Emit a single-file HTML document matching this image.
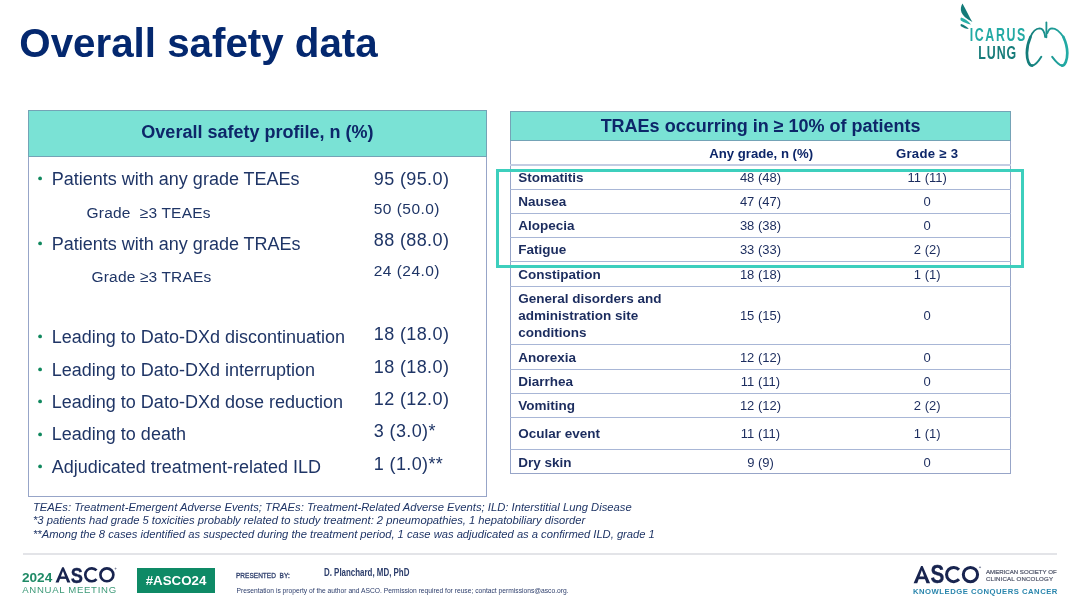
<!DOCTYPE html>
<html><head><meta charset="utf-8"><style>
html,body{margin:0;padding:0;width:1080px;height:607px;overflow:hidden;background:#fff;}
#wrap{position:absolute;left:0;top:0;width:1080px;height:607px;will-change:transform;}
.t{position:absolute;white-space:pre;line-height:1;font-family:"Liberation Sans",sans-serif;}
.r{position:absolute;}
</style></head><body><div id="wrap">
<div class="t" style="left:19.30px;top:24.00px;font-size:40.3px;font-weight:700;font-style:normal;color:#04286f;">Overall safety data</div>
<div class="r" style="left:28px;top:110px;width:459px;height:387px;background:#fff;border:1px solid #97a5c8;box-sizing:border-box;"></div>
<div class="r" style="left:28px;top:110px;width:459px;height:47px;background:#7ae2d5;border:1px solid #74a3b6;box-sizing:border-box;"></div>
<div class="t" style="left:-242.60px;width:1000px;text-align:center;top:123.00px;font-size:18px;font-weight:700;font-style:normal;color:#0d2669;">Overall safety profile, n (%)</div>
<div class="t" style="left:51.80px;top:170.00px;font-size:18px;font-weight:400;font-style:normal;color:#1f3566;">Patients with any grade TEAEs</div>
<svg class="r" style="left:36px;top:175.10px" width="8" height="8"><circle cx="4.1" cy="3.4" r="1.9" fill="#10885e"/></svg>
<div class="t" style="left:51.80px;top:235.00px;font-size:18px;font-weight:400;font-style:normal;color:#1f3566;">Patients with any grade TRAEs</div>
<svg class="r" style="left:36px;top:239.50px" width="8" height="8"><circle cx="4.1" cy="3.4" r="1.9" fill="#10885e"/></svg>
<div class="t" style="left:51.80px;top:328.00px;font-size:18px;font-weight:400;font-style:normal;color:#1f3566;">Leading to Dato-DXd discontinuation</div>
<svg class="r" style="left:36px;top:333.20px" width="8" height="8"><circle cx="4.1" cy="3.4" r="1.9" fill="#10885e"/></svg>
<div class="t" style="left:51.80px;top:361.00px;font-size:18px;font-weight:400;font-style:normal;color:#1f3566;">Leading to Dato-DXd interruption</div>
<svg class="r" style="left:36px;top:365.70px" width="8" height="8"><circle cx="4.1" cy="3.4" r="1.9" fill="#10885e"/></svg>
<div class="t" style="left:51.80px;top:393.00px;font-size:18px;font-weight:400;font-style:normal;color:#1f3566;">Leading to Dato-DXd dose reduction</div>
<svg class="r" style="left:36px;top:398.00px" width="8" height="8"><circle cx="4.1" cy="3.4" r="1.9" fill="#10885e"/></svg>
<div class="t" style="left:51.80px;top:425.00px;font-size:18px;font-weight:400;font-style:normal;color:#1f3566;">Leading to death</div>
<svg class="r" style="left:36px;top:430.50px" width="8" height="8"><circle cx="4.1" cy="3.4" r="1.9" fill="#10885e"/></svg>
<div class="t" style="left:51.80px;top:458.00px;font-size:18px;font-weight:400;font-style:normal;color:#1f3566;">Adjudicated treatment-related ILD</div>
<svg class="r" style="left:36px;top:462.80px" width="8" height="8"><circle cx="4.1" cy="3.4" r="1.9" fill="#10885e"/></svg>
<div class="t" style="left:86.60px;top:205.00px;font-size:15.5px;font-weight:400;font-style:normal;color:#1f3566;letter-spacing:0.2px;">Grade&nbsp; ≥3 TEAEs</div>
<div class="t" style="left:91.60px;top:269.00px;font-size:15.5px;font-weight:400;font-style:normal;color:#1f3566;letter-spacing:0.15px;">Grade ≥3 TRAEs</div>
<div class="t" style="left:373.80px;top:170.00px;font-size:18px;font-weight:400;font-style:normal;color:#1f3566;letter-spacing:0.38px;">95 (95.0)</div>
<div class="t" style="left:373.80px;top:201.00px;font-size:15.5px;font-weight:400;font-style:normal;color:#1f3566;letter-spacing:0.45px;">50 (50.0)</div>
<div class="t" style="left:373.80px;top:231.00px;font-size:18px;font-weight:400;font-style:normal;color:#1f3566;letter-spacing:0.38px;">88 (88.0)</div>
<div class="t" style="left:373.80px;top:263.00px;font-size:15.5px;font-weight:400;font-style:normal;color:#1f3566;letter-spacing:0.45px;">24 (24.0)</div>
<div class="t" style="left:373.80px;top:325.00px;font-size:18px;font-weight:400;font-style:normal;color:#1f3566;letter-spacing:0.38px;">18 (18.0)</div>
<div class="t" style="left:373.80px;top:358.00px;font-size:18px;font-weight:400;font-style:normal;color:#1f3566;letter-spacing:0.38px;">18 (18.0)</div>
<div class="t" style="left:373.80px;top:390.00px;font-size:18px;font-weight:400;font-style:normal;color:#1f3566;letter-spacing:0.38px;">12 (12.0)</div>
<div class="t" style="left:373.80px;top:422.00px;font-size:18px;font-weight:400;font-style:normal;color:#1f3566;letter-spacing:0.38px;">3 (3.0)*</div>
<div class="t" style="left:373.80px;top:455.00px;font-size:18px;font-weight:400;font-style:normal;color:#1f3566;letter-spacing:0.38px;">1 (1.0)**</div>
<div class="r" style="left:510px;top:111px;width:501px;height:363px;background:#fff;border:1px solid #97a5c8;box-sizing:border-box;"></div>
<div class="r" style="left:510px;top:111px;width:501px;height:30px;background:#7ae2d5;border:1px solid #74a3b6;box-sizing:border-box;"></div>
<div class="t" style="left:260.60px;width:1000px;text-align:center;top:117.00px;font-size:18px;font-weight:700;font-style:normal;color:#0d2669;">TRAEs occurring in ≥ 10% of patients</div>
<div class="t" style="left:261.20px;width:1000px;text-align:center;top:147.00px;font-size:13.15px;font-weight:700;font-style:normal;color:#0d2669;">Any grade, n (%)</div>
<div class="t" style="left:427.20px;width:1000px;text-align:center;top:147.00px;font-size:13.15px;font-weight:700;font-style:normal;color:#0d2669;letter-spacing:0.3px;">Grade ≥ 3</div>
<div class="r" style="left:510px;top:164px;width:501px;height:2px;background:#c3cde3;"></div>
<div class="r" style="left:510px;top:189px;width:501px;height:1px;background:#a8b6d6;"></div>
<div class="r" style="left:510px;top:213px;width:501px;height:1px;background:#a8b6d6;"></div>
<div class="r" style="left:510px;top:237px;width:501px;height:1px;background:#a8b6d6;"></div>
<div class="r" style="left:510px;top:261px;width:501px;height:1px;background:#a8b6d6;"></div>
<div class="r" style="left:510px;top:286px;width:501px;height:1px;background:#a8b6d6;"></div>
<div class="r" style="left:510px;top:344px;width:501px;height:1px;background:#a8b6d6;"></div>
<div class="r" style="left:510px;top:369px;width:501px;height:1px;background:#a8b6d6;"></div>
<div class="r" style="left:510px;top:393px;width:501px;height:1px;background:#a8b6d6;"></div>
<div class="r" style="left:510px;top:417px;width:501px;height:1px;background:#a8b6d6;"></div>
<div class="r" style="left:510px;top:449px;width:501px;height:1px;background:#a8b6d6;"></div>
<div class="t" style="left:518.20px;top:171.00px;font-size:13.5px;font-weight:700;font-style:normal;color:#1b2c5e;">Stomatitis</div>
<div class="t" style="left:260.50px;width:1000px;text-align:center;top:171.00px;font-size:13px;font-weight:400;font-style:normal;color:#1b2c5e;">48 (48)</div>
<div class="t" style="left:427.20px;width:1000px;text-align:center;top:171.00px;font-size:13px;font-weight:400;font-style:normal;color:#1b2c5e;">11 (11)</div>
<div class="t" style="left:518.20px;top:195.00px;font-size:13.5px;font-weight:700;font-style:normal;color:#1b2c5e;">Nausea</div>
<div class="t" style="left:260.50px;width:1000px;text-align:center;top:195.00px;font-size:13px;font-weight:400;font-style:normal;color:#1b2c5e;">47 (47)</div>
<div class="t" style="left:427.20px;width:1000px;text-align:center;top:195.00px;font-size:13px;font-weight:400;font-style:normal;color:#1b2c5e;">0</div>
<div class="t" style="left:518.20px;top:219.00px;font-size:13.5px;font-weight:700;font-style:normal;color:#1b2c5e;">Alopecia</div>
<div class="t" style="left:260.50px;width:1000px;text-align:center;top:219.00px;font-size:13px;font-weight:400;font-style:normal;color:#1b2c5e;">38 (38)</div>
<div class="t" style="left:427.20px;width:1000px;text-align:center;top:219.00px;font-size:13px;font-weight:400;font-style:normal;color:#1b2c5e;">0</div>
<div class="t" style="left:518.20px;top:243.00px;font-size:13.5px;font-weight:700;font-style:normal;color:#1b2c5e;">Fatigue</div>
<div class="t" style="left:260.50px;width:1000px;text-align:center;top:243.00px;font-size:13px;font-weight:400;font-style:normal;color:#1b2c5e;">33 (33)</div>
<div class="t" style="left:427.20px;width:1000px;text-align:center;top:243.00px;font-size:13px;font-weight:400;font-style:normal;color:#1b2c5e;">2 (2)</div>
<div class="t" style="left:518.20px;top:268.00px;font-size:13.5px;font-weight:700;font-style:normal;color:#1b2c5e;">Constipation</div>
<div class="t" style="left:260.50px;width:1000px;text-align:center;top:268.00px;font-size:13px;font-weight:400;font-style:normal;color:#1b2c5e;">18 (18)</div>
<div class="t" style="left:427.20px;width:1000px;text-align:center;top:268.00px;font-size:13px;font-weight:400;font-style:normal;color:#1b2c5e;">1 (1)</div>
<div class="t" style="left:518.20px;top:351.00px;font-size:13.5px;font-weight:700;font-style:normal;color:#1b2c5e;">Anorexia</div>
<div class="t" style="left:260.50px;width:1000px;text-align:center;top:351.00px;font-size:13px;font-weight:400;font-style:normal;color:#1b2c5e;">12 (12)</div>
<div class="t" style="left:427.20px;width:1000px;text-align:center;top:351.00px;font-size:13px;font-weight:400;font-style:normal;color:#1b2c5e;">0</div>
<div class="t" style="left:518.20px;top:375.00px;font-size:13.5px;font-weight:700;font-style:normal;color:#1b2c5e;">Diarrhea</div>
<div class="t" style="left:260.50px;width:1000px;text-align:center;top:375.00px;font-size:13px;font-weight:400;font-style:normal;color:#1b2c5e;">11 (11)</div>
<div class="t" style="left:427.20px;width:1000px;text-align:center;top:375.00px;font-size:13px;font-weight:400;font-style:normal;color:#1b2c5e;">0</div>
<div class="t" style="left:518.20px;top:399.00px;font-size:13.5px;font-weight:700;font-style:normal;color:#1b2c5e;">Vomiting</div>
<div class="t" style="left:260.50px;width:1000px;text-align:center;top:399.00px;font-size:13px;font-weight:400;font-style:normal;color:#1b2c5e;">12 (12)</div>
<div class="t" style="left:427.20px;width:1000px;text-align:center;top:399.00px;font-size:13px;font-weight:400;font-style:normal;color:#1b2c5e;">2 (2)</div>
<div class="t" style="left:518.20px;top:427.00px;font-size:13.5px;font-weight:700;font-style:normal;color:#1b2c5e;">Ocular event</div>
<div class="t" style="left:260.50px;width:1000px;text-align:center;top:427.00px;font-size:13px;font-weight:400;font-style:normal;color:#1b2c5e;">11 (11)</div>
<div class="t" style="left:427.20px;width:1000px;text-align:center;top:427.00px;font-size:13px;font-weight:400;font-style:normal;color:#1b2c5e;">1 (1)</div>
<div class="t" style="left:518.20px;top:456.00px;font-size:13.5px;font-weight:700;font-style:normal;color:#1b2c5e;">Dry skin</div>
<div class="t" style="left:260.50px;width:1000px;text-align:center;top:456.00px;font-size:13px;font-weight:400;font-style:normal;color:#1b2c5e;">9 (9)</div>
<div class="t" style="left:427.20px;width:1000px;text-align:center;top:456.00px;font-size:13px;font-weight:400;font-style:normal;color:#1b2c5e;">0</div>
<div class="t" style="left:518.20px;top:292.00px;font-size:13.5px;font-weight:700;font-style:normal;color:#1b2c5e;">General disorders and</div>
<div class="t" style="left:518.20px;top:309.00px;font-size:13.5px;font-weight:700;font-style:normal;color:#1b2c5e;">administration site</div>
<div class="t" style="left:518.20px;top:326.00px;font-size:13.5px;font-weight:700;font-style:normal;color:#1b2c5e;">conditions</div>
<div class="t" style="left:260.50px;width:1000px;text-align:center;top:309.00px;font-size:13px;font-weight:400;font-style:normal;color:#1b2c5e;">15 (15)</div>
<div class="t" style="left:427.20px;width:1000px;text-align:center;top:309.00px;font-size:13px;font-weight:400;font-style:normal;color:#1b2c5e;">0</div>
<div class="r" style="left:496px;top:169px;width:528px;height:99px;background:transparent;border:3px solid #3dcfbd;box-sizing:border-box;"></div>
<div class="t" style="left:33.00px;top:502.00px;font-size:11.22px;font-weight:400;font-style:italic;color:#1f3566;letter-spacing:0.018px;">TEAEs: Treatment-Emergent Adverse Events; TRAEs: Treatment-Related Adverse Events; ILD: Interstitial Lung Disease</div>
<div class="t" style="left:33.00px;top:515.00px;font-size:11.22px;font-weight:400;font-style:italic;color:#1f3566;letter-spacing:-0.014px;">*3 patients had grade 5 toxicities probably related to study treatment: 2 pneumopathies, 1 hepatobiliary disorder</div>
<div class="t" style="left:33.00px;top:529.00px;font-size:11.22px;font-weight:400;font-style:italic;color:#1f3566;letter-spacing:-0.02px;">**Among the 8 cases identified as suspected during the treatment period, 1 case was adjudicated as a confirmed ILD, grade 1</div>
<div class="r" style="left:23px;top:553px;width:1034px;height:1.5px;background:#e3e4e8;"></div>
<div class="t" style="left:22.00px;top:571.00px;font-size:13.6px;font-weight:700;font-style:normal;color:#1f8a66;">2024</div>
<svg class="r" style="left:0;top:0" width="1080" height="607" viewBox="0 0 1080 607"><g fill="none" stroke="#18244f" stroke-width="2.66">
<path d="M55.50,582.40 L62.16,567.20 L63.76,567.20 L70.42,582.40 L67.23,582.40 L62.96,570.92 L58.69,582.40 Z" fill="#18244f" stroke="none"/>
<path d="M59.35,577.69 L66.57,577.69" stroke-width="2.39"/>
<path d="M96.55,570.46 A6.48,6.48 0 1 0 96.55,579.14"/>
<circle cx="106.89" cy="574.80" r="6.48"/>
<circle cx="115.60" cy="568.60" r="0.55" stroke-width="0.5"/>
</g>
<text x="70.66" y="582.65" font-family="Liberation Sans" font-weight="700" font-size="22.80" fill="#18244f" stroke="#18244f" stroke-width="0.35" transform="translate(71.37,0) scale(0.8,1) translate(-71.37,0)">S</text>
</svg>
<div class="t" style="left:22.20px;top:585.00px;font-size:9.6px;font-weight:400;font-style:normal;color:#3d9a78;letter-spacing:0.69px;">ANNUAL MEETING</div>
<div class="r" style="left:137.4px;top:568px;width:77.3px;height:25px;background:#0e8a66;"></div>
<div class="t" style="left:-324.00px;width:1000px;text-align:center;top:574.00px;font-size:13.3px;font-weight:700;font-style:normal;color:#fff;">#ASCO24</div>
<div class="t" style="left:236.00px;top:572.00px;font-size:7.7px;font-weight:400;font-style:normal;color:#2c3d6b;transform:scaleX(0.85);transform-origin:0 0;-webkit-text-stroke:0.3px #2c3d6b;">PRESENTED&nbsp; BY:</div>
<div class="t" style="left:324.00px;top:567.00px;font-size:11px;font-weight:700;font-style:normal;color:#2c3d6b;transform:scaleX(0.72);transform-origin:0 0;">D. Planchard, MD, PhD</div>
<div class="t" style="left:236.50px;top:588.00px;font-size:6.7px;font-weight:400;font-style:normal;color:#2c3d6b;">Presentation is property of the author and ASCO. Permission required for reuse; contact permissions@asco.org.</div>
<svg class="r" style="left:0;top:0" width="1080" height="607" viewBox="0 0 1080 607"><g fill="none" stroke="#18244f" stroke-width="3.03">
<path d="M913.60,583.20 L921.05,565.90 L922.65,565.90 L930.11,583.20 L926.47,583.20 L921.85,570.14 L917.23,583.20 Z" fill="#18244f" stroke="none"/>
<path d="M917.86,577.84 L925.85,577.84" stroke-width="2.72"/>
<path d="M958.99,569.78 A7.13,7.13 0 1 0 958.99,579.32"/>
<circle cx="970.45" cy="574.55" r="7.13"/>
<circle cx="980.00" cy="567.30" r="0.55" stroke-width="0.5"/>
</g>
<text x="930.37" y="583.45" font-family="Liberation Sans" font-weight="700" font-size="25.95" fill="#18244f" stroke="#18244f" stroke-width="0.35" transform="translate(931.15,0) scale(0.8,1) translate(-931.15,0)">S</text>
</svg>
<div class="t" style="left:986.00px;top:569.00px;font-size:6.1px;font-weight:400;font-style:normal;color:#4e5468;-webkit-text-stroke:0.2px #4e5468;">AMERICAN SOCIETY OF</div>
<div class="t" style="left:986.00px;top:576.00px;font-size:6.1px;font-weight:400;font-style:normal;color:#4e5468;letter-spacing:0.18px;-webkit-text-stroke:0.2px #4e5468;">CLINICAL ONCOLOGY</div>
<div class="t" style="left:913.00px;top:588.00px;font-size:7.7px;font-weight:700;font-style:normal;color:#2a86ad;letter-spacing:0.5px;">KNOWLEDGE CONQUERS CANCER</div>
<svg class="r" style="left:0;top:0" width="1080" height="80" viewBox="0 0 1080 80">
<path d="M962.5,3.6 C959.3,9 959.8,15.8 972.4,21.9 C969.2,17 966.6,10.8 962.5,3.6 Z" fill="#137b79"/>
<path d="M961.2,17.6 C964.5,18.8 968,21 971,24.6 C967.5,24 964,22.8 960.8,20.6 C960.2,19.6 960.4,18 961.2,17.6 Z" fill="#2ab0a8"/>
<path d="M961.2,24 C964,25 966.8,26.6 968.8,29 C966,28.8 963.5,27.8 960.9,26.2 C960.3,25.4 960.5,24.3 961.2,24 Z" fill="#137b79"/>
<g font-family="Liberation Sans" font-weight="700" font-size="18.2">
<text transform="translate(969.8,40.5) scale(0.68,1)" fill="#22aaa4" letter-spacing="2.35">ICARUS</text>
<text transform="translate(978.3,59.3) scale(0.68,1)" fill="#167c7a" letter-spacing="1.4">LUNG</text>
</g>
<defs><linearGradient id="lg" x1="1026" x2="1068" y1="0" y2="0" gradientUnits="userSpaceOnUse"><stop offset="0" stop-color="#137a78"/><stop offset="1" stop-color="#22aca6"/></linearGradient></defs>
<g fill="none" stroke="url(#lg)" stroke-linecap="round">
<path d="M1046.4,22.5 L1046.4,37.3" stroke-width="1.8"/>
<path d="M1045.2,37 C1044.4,31 1042.6,28.4 1039.6,28.4 C1036,28.5 1032.5,32 1030.5,37" stroke-width="1.9"/>
<path d="M1030.5,37 C1028.3,42 1026.9,48 1026.9,53 C1026.9,60 1029,65.6 1032.3,65.6" stroke-width="2.7"/>
<path d="M1032.3,65.6 C1035.5,65.4 1039,60.5 1041.3,56.8" stroke-width="2.0"/>
<path d="M1047.4,33 C1048.4,30 1050,28.4 1052,28.4 C1055.8,28.5 1060,32 1063.4,37" stroke-width="1.9"/>
<path d="M1063.4,37 C1065.7,42 1067.3,48 1067.3,53 C1067.3,60 1065,65.6 1062,65.6" stroke-width="2.7"/>
<path d="M1062,65.6 C1058.8,65.4 1055,60.5 1052.2,56.8" stroke-width="2.0"/>
</g>
</svg>
</div></body></html>
